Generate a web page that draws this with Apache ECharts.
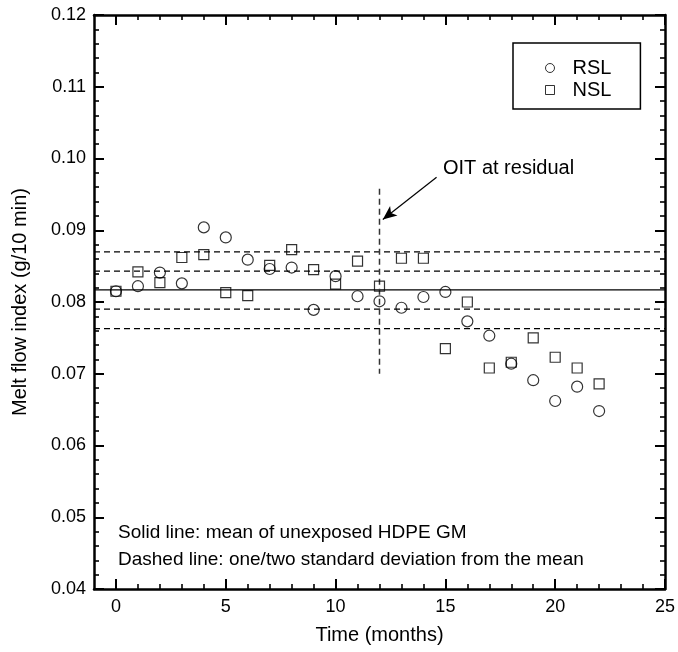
<!DOCTYPE html>
<html>
<head>
<meta charset="utf-8">
<script src="https://cdn.jsdelivr.net/npm/echarts@6/dist/echarts.min.js"></script>
<style>
html,body{margin:0;padding:0;background:#fff;}
#chart{width:678px;height:652px;}
</style>
</head>
<body>
<div id="chart"></div>
<script>
// ---- data ----
const months = [0,1,2,3,4,5,6,7,8,9,10,11,12,13,14,15,16,17,18,19,20,21,22];
const rslValues = [0.0815,0.0822,0.0841,0.0826,0.0904,0.0890,0.0859,0.0846,0.0848,0.0789,0.0836,0.0808,0.0801,0.0792,0.0807,0.0814,0.0773,0.0753,0.0714,0.0691,0.0662,0.0682,0.0648];
const nslValues = [0.0815,0.0842,0.0827,0.0862,0.0866,0.0813,0.0809,0.0851,0.0873,0.0845,0.0825,0.0857,0.0822,0.0861,0.0861,0.0735,0.0800,0.0708,0.0716,0.0750,0.0723,0.0708,0.0686];
const meanValue = 0.0817;
const sdValues = [0.0870, 0.0843, 0.0790, 0.0763];
const oitMonth = 12;
const oitRange = [0.0958, 0.0700];
const arrowFrom = [14.6, 0.0974];
const arrowTo = [12.15, 0.0915];
const xMajorTicks = [0,5,10,15,20,25];
const xMinorTicks = [0,1,2,3,4,5,6,7,8,9,10,11,12,13,14,15,16,17,18,19,20,21,22,23,24,25];
const xRange = [-1, 25];
const yRange = [0.04, 0.12];
const yStep = 0.01;

const FONT = '"Liberation Sans", Arial, Helvetica, sans-serif';
const chart = echarts.init(document.getElementById('chart'), null, {renderer:'canvas'});

function xAxisDef(pos, ticks, len, major) {
  return {
    type:'value', min:xRange[0], max:xRange[1], position:pos,
    axisLine:{show:major, onZero:false, lineStyle:{color:'#000', width:2.5}},
    axisTick:{show:true, inside:true, length:len, customValues:ticks, lineStyle:{color:'#000', width:major?2:1.6}},
    axisLabel:{show:(pos==='bottom' && major), customValues:xMajorTicks, color:'#000', fontSize:18, fontFamily:FONT, margin:9},
    splitLine:{show:false}
  };
}
function yAxisDef(pos) {
  return {
    type:'value', min:yRange[0], max:yRange[1], interval:yStep, position:pos,
    axisLine:{show:true, onZero:false, lineStyle:{color:'#000', width:2.5}},
    axisTick:{show:true, inside:true, length:10, lineStyle:{color:'#000', width:2}},
    minorTick:{show:true, splitNumber:5, length:5, lineStyle:{color:'#000', width:1.6}},
    axisLabel:{show:pos==='left', color:'#000', fontSize:18, fontFamily:FONT, margin:8, formatter:v=>v.toFixed(2)},
    splitLine:{show:false}
  };
}

const xAxes = [xAxisDef('bottom', xMajorTicks, 10, true), xAxisDef('bottom', xMinorTicks, 5, false),
               xAxisDef('top', xMajorTicks, 10, true), xAxisDef('top', xMinorTicks, 5, false)];
xAxes[0].name = 'Time (months)';
xAxes[0].nameLocation = 'middle';
xAxes[0].nameGap = 36;
xAxes[0].nameTextStyle = {color:'#000', fontSize:20, fontFamily:FONT};
const yAxes = [yAxisDef('left'), yAxisDef('right')];
yAxes[0].name = 'Melt flow index (g/10 min)';
yAxes[0].nameLocation = 'middle';
yAxes[0].nameGap = 64;
yAxes[0].nameTextStyle = {color:'#000', fontSize:20, fontFamily:FONT};

const markerStyle = {color:'rgba(0,0,0,0)', borderColor:'#000', borderWidth:1.2};

function hLine(v, dashed) {
  return {
    type:'line', xAxisIndex:0, yAxisIndex:0, silent:true, symbol:'none', z:2,
    lineStyle:{color:'#000', width:1.2, type: dashed ? [6,4] : 'solid'},
    data:[[xRange[0], v], [xRange[1], v]]
  };
}

const option = {
  animation:false,
  backgroundColor:'#fff',
  grid:{left:94, right:11, top:15, bottom:63},
  xAxis:xAxes,
  yAxis:yAxes,
  legend:{
    orient:'vertical', left:513, top:43,
    data:[
      {name:'RSL', icon:'circle', itemStyle:{color:'rgba(0,0,0,0)', borderColor:'#000', borderWidth:1}},
      {name:'NSL', icon:'rect', itemStyle:{color:'rgba(0,0,0,0)', borderColor:'#000', borderWidth:1}}
    ],
    itemWidth:9, itemHeight:9, itemGap:2,
    padding:[15, 29, 9, 32],
    borderColor:'#000', borderWidth:1.5,
    textStyle:{color:'#000', fontSize:20, fontFamily:FONT, padding:[0,0,0,13]}
  },
  graphic:[
    {type:'text', x:443, y:168, style:{text:'OIT at residual', fill:'#000', font:'20px ' + FONT, verticalAlign:'middle'}},
    {type:'text', x:118, y:533, style:{text:'Solid line: mean of unexposed HDPE GM', fill:'#000', font:'19px ' + FONT, verticalAlign:'middle'}},
    {type:'text', x:118, y:560, style:{text:'Dashed line: one/two standard deviation from the mean', fill:'#000', font:'19px ' + FONT, verticalAlign:'middle'}}
  ],
  series:[
    {
      name:'RSL', type:'scatter', xAxisIndex:0, yAxisIndex:0, symbol:'circle', symbolSize:11,
      itemStyle:markerStyle, z:5,
      data:months.map((m,i)=>[m, rslValues[i]])
    },
    {
      name:'NSL', type:'scatter', xAxisIndex:0, yAxisIndex:0, symbol:'rect', symbolSize:10,
      itemStyle:markerStyle, z:5,
      data:months.map((m,i)=>[m, nslValues[i]])
    },
    hLine(meanValue, false),
    ...sdValues.map(v => hLine(v, true)),
    {
      type:'line', xAxisIndex:0, yAxisIndex:0, silent:true, symbol:'none', z:3,
      lineStyle:{color:'#333', width:1.5, type:[6,4]},
      data:[[oitMonth, oitRange[0]], [oitMonth, oitRange[1]]]
    },
    {
      type:'line', xAxisIndex:0, yAxisIndex:0, silent:true, symbol:'none', z:3, data:[],
      markLine:{
        silent:true, animation:false, label:{show:false}, precision:6,
        data:[
          [{coord:arrowFrom, symbol:'none', lineStyle:{type:'solid', color:'#000', width:1.2}}, {coord:arrowTo, symbol:'arrow', symbolSize:[9,14]}]
        ]
      }
    }
  ]
};
chart.setOption(option);
</script>
</body>
</html>
